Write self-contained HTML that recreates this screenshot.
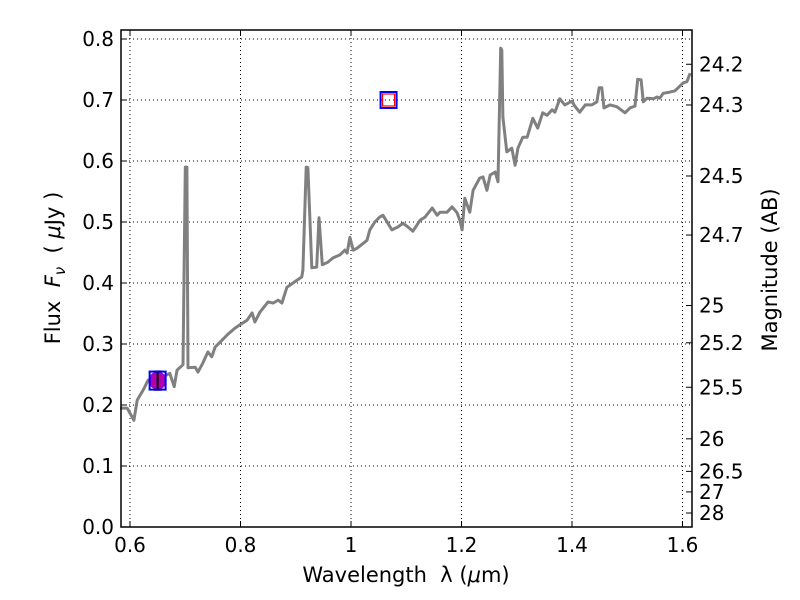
<!DOCTYPE html>
<html><head><meta charset="utf-8"><style>
body{margin:0;background:#fff}
svg{display:block;font-family:"DejaVu Sans","Liberation Sans",sans-serif}
</style></head><body>
<svg id="chart" width="800" height="600" viewBox="0 0 800 600"></svg>
<script>
const wavelengths=[.582,.595,.604,.607,.613,.624,.633,.649,.672,.680,.685,.696,.700,.703,.705,.718,.723,.732,.741,.748,.754,.763,.776,.790,.803,.812,.821,.826,.835,.850,.859,.868,.875,.884,.895,.911,.913,.919,.922,.929,.938,.942,.948,.958,.967,.980,.989,.993,.998,1.004,1.011,1.029,1.034,1.043,1.052,1.058,1.074,1.085,1.094,1.103,1.112,1.125,1.134,1.147,1.156,1.161,1.174,1.183,1.192,1.197,1.201,1.206,1.215,1.221,1.233,1.239,1.246,1.252,1.261,1.266,1.271,1.273,1.275,1.282,1.291,1.297,1.302,1.311,1.319,1.329,1.338,1.347,1.355,1.364,1.369,1.378,1.387,1.400,1.405,1.414,1.424,1.436,1.445,1.449,1.454,1.458,1.469,1.481,1.496,1.505,1.514,1.519,1.525,1.529,1.536,1.547,1.554,1.559,1.565,1.577,1.586,1.592,1.601,1.608,1.614];
const fluxes=[.195,.195,.180,.175,.208,.225,.241,.241,.252,.230,.257,.266,.590,.590,.261,.262,.254,.269,.287,.279,.295,.303,.315,.326,.334,.339,.351,.336,.352,.369,.367,.372,.367,.393,.400,.410,.421,.590,.589,.425,.426,.507,.430,.434,.441,.446,.454,.449,.475,.454,.457,.470,.487,.500,.508,.511,.487,.492,.498,.492,.485,.503,.508,.523,.511,.516,.516,.525,.515,.503,.487,.539,.516,.552,.572,.574,.552,.577,.582,.566,.785,.782,.672,.615,.621,.593,.621,.639,.639,.670,.654,.679,.675,.684,.680,.702,.692,.698,.690,.680,.692,.692,.697,.720,.720,.687,.692,.689,.679,.687,.690,.734,.733,.697,.703,.702,.705,.703,.711,.713,.715,.720,.728,.730,.744];
const photWl=[0.65], photFlux=[0.24], photErr=[0.015];
const modelWl=[1.068], modelFlux=[0.70];
const xTicks=[0.6,0.8,1.0,1.2,1.4,1.6], xTickLabels=["0.6","0.8","1","1.2","1.4","1.6"];
const yTicks=[0,0.1,0.2,0.3,0.4,0.5,0.6,0.7,0.8], yTickLabels=["0.0","0.1","0.2","0.3","0.4","0.5","0.6","0.7","0.8"];
const magTicks=[24.2,24.3,24.5,24.7,25,25.2,25.5,26,26.5,27,28];
const L=121,R=692,T=30,B=527;
const X=w=>130+(w-0.6)*552.5, Y=f=>527-f*610;
const svg=document.getElementById('chart'),NS='http://www.w3.org/2000/svg';
function mk(tag,attrs,parent){const e=document.createElementNS(NS,tag);for(const k in attrs)e.setAttribute(k,attrs[k]);(parent||svg).appendChild(e);return e;}
const grid=mk('g',{stroke:'#000','stroke-width':1,'stroke-dasharray':'1,3'});


xTicks.forEach(v=>mk('line',{x1:X(v),x2:X(v),y1:T,y2:B},grid));
yTicks.forEach(v=>mk('line',{x1:L,x2:R,y1:Y(v),y2:Y(v)},grid));
const pts=wavelengths.map((w,i)=>X(w).toFixed(1)+','+Y(fluxes[i]).toFixed(1)).join(' ');
const line=mk('polyline',{points:pts,fill:'none',stroke:'#808080','stroke-width':3,'stroke-linejoin':'round'});


photWl.forEach((w,i)=>{
 const c=mk('circle',{cx:X(w),cy:Y(photFlux[i]),r:9,fill:'#b000b0'});
 
 
 const e=mk('g',{stroke:'#000','stroke-width':2});
 
 
 const y1=Y(photFlux[i]+photErr[i]),y2=Y(photFlux[i]-photErr[i]);
 mk('line',{x1:X(w),x2:X(w),y1:y1,y2:y2},e);
 mk('line',{x1:X(w)-4,x2:X(w)+4,y1:y1,y2:y1},e);
 mk('line',{x1:X(w)-4,x2:X(w)+4,y1:y2,y2:y2},e);
 const s=mk('rect',{x:X(w)-8,y:Y(photFlux[i])-9,width:16,height:18,fill:'none',stroke:'#0000ff','stroke-width':2});
 
 
});
modelWl.forEach((w,i)=>{
 const s=mk('rect',{x:X(w)-8,y:Y(modelFlux[i])-8,width:16,height:16,fill:'none',stroke:'#0000ff','stroke-width':2});
 
 
 const r=mk('rect',{x:X(w)-6,y:Y(modelFlux[i])-6,width:12,height:12,fill:'none',stroke:'#ff0000','stroke-width':1.2});
 
 
});
const ax=mk('rect',{x:L,y:T,width:R-L,height:B-T,fill:'none',stroke:'#000','stroke-width':1.5});


const tk=mk('g',{stroke:'#000','stroke-width':1});
xTicks.forEach((v,i)=>{mk('line',{x1:X(v),x2:X(v),y1:B,y2:B-6},tk);mk('line',{x1:X(v),x2:X(v),y1:T,y2:T+6},tk);
 const t=mk('text',{x:X(v),y:B+25,'text-anchor':'middle','font-size':20,fill:'#000',stroke:'none'});t.textContent=xTickLabels[i];
 
 });
yTicks.forEach((v,i)=>{mk('line',{x1:L,x2:L+6,y1:Y(v),y2:Y(v)},tk);
 const t=mk('text',{x:L-7,y:Y(v)+7,'text-anchor':'end','font-size':20,fill:'#000',stroke:'none'});t.textContent=yTickLabels[i];
 
 });
magTicks.forEach(m=>{const y=Y(Math.pow(10,(23.9-m)/2.5));mk('line',{x1:R,x2:R-6,y1:y,y2:y},tk);
 const t=mk('text',{x:R+7,y:y+7,'font-size':20,fill:'#000',stroke:'none'});t.textContent=String(m);
 
 });
</script>
<svg style="position:absolute;left:0;top:0" width="800" height="600">
<text x="406" y="582" text-anchor="middle" font-size="21" font-family="DejaVu Sans,Liberation Sans,sans-serif">Wavelength&#160; λ (<tspan font-style="italic">μ</tspan>m)</text>
<text transform="translate(60,268) rotate(-90)" text-anchor="middle" font-size="21" font-family="DejaVu Sans,Liberation Sans,sans-serif">Flux&#160; <tspan font-style="italic">F</tspan><tspan font-style="italic" font-size="15" dy="5">ν</tspan><tspan dy="-5">&#160; ( </tspan><tspan font-style="italic">μ</tspan>Jy )</text>
<text transform="translate(777,270) rotate(-90)" text-anchor="middle" font-size="21" font-family="DejaVu Sans,Liberation Sans,sans-serif">Magnitude (AB)</text>
</svg>
</body></html>
